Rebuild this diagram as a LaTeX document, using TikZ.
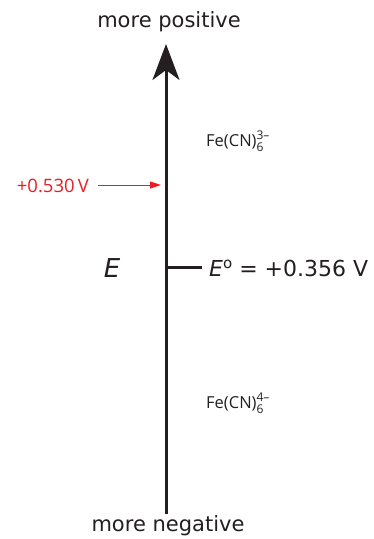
\documentclass[tikz,border=0pt]{standalone}
\usepackage{fontspec}
\setmainfont{DejaVu Sans}
\newfontfamily\labfont{Open Sans}
\usetikzlibrary{arrows.meta}
\definecolor{redlab}{RGB}{237,28,36}
\definecolor{ink}{RGB}{35,31,32}
\newcommand{\ionsub}[2]{\rlap{\raisebox{-4.5pt}{\fontsize{12}{14}\selectfont #1}}\raisebox{7pt}{\fontsize{12}{14}\selectfont #2}}
\tikzset{
  big/.style={font=\fontsize{21}{25}\selectfont, text=ink, inner sep=0pt},
  small/.style={font=\labfont\fontsize{16.5}{20}\selectfont, text=ink, inner sep=0pt},
  redtxt/.style={font=\labfont\fontsize{18.5}{22}\selectfont, text=redlab, inner sep=0pt},
}
\begin{document}
\begin{tikzpicture}[x=1pt,y=-1pt]
\useasboundingbox (0,0) rectangle (373,539);
\coordinate (bot) at (166,514);
\coordinate (top) at (166,44);
\draw[ink, line width=3pt, -{Stealth[length=36pt,width=27pt,inset=10pt]}] (bot) -- (top);
\node[big] (pos) at (169,22) {more positive};
\node[big] (neg) at (168,526) {more negative};
\coordinate (tick0) at (166,267);
\coordinate (tick1) at (202,267);
\draw[ink, line width=3pt] (tick0) -- (tick1);
\node[big, font=\fontsize{22}{26}\selectfont, anchor=west] (e0) at (209,268) {\textit{E}\raisebox{7.5pt}{\fontsize{15}{17}\selectfont o} = +0.356 V};
\node[font=\fontsize{26}{30}\selectfont, text=ink, inner sep=0pt] (E) at (112,268) {\textit{E}};
\node[small, anchor=west] (ox) at (206,141) {Fe(CN)\ionsub{6}{3–}};
\node[small, anchor=west] (red) at (206,403) {Fe(CN)\ionsub{6}{4–}};
\node[redtxt, anchor=east] (app) at (89,186) {+0.530\,V};
\coordinate (app0) at (98,185);
\coordinate (app1) at (161,185);
\draw[redlab, line width=1pt, -{Triangle[length=11pt,width=7pt]}] (app0) -- (app1);
\end{tikzpicture}
\end{document}
